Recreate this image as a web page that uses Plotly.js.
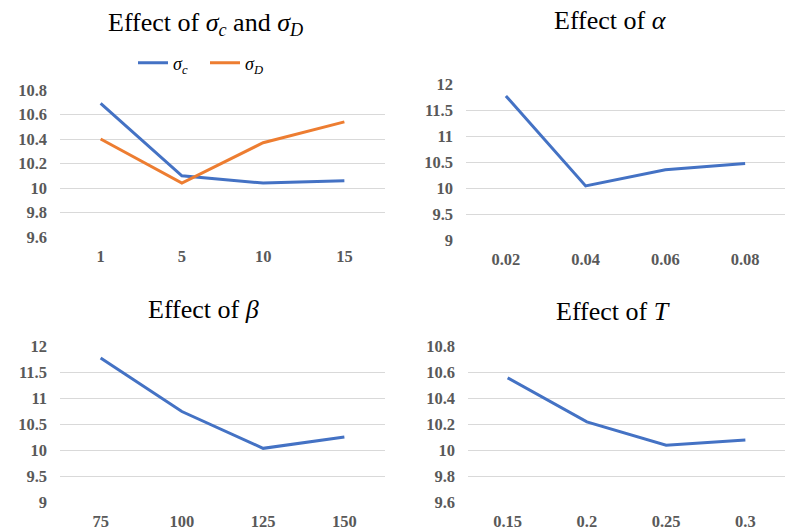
<!DOCTYPE html>
<html>
<head>
<meta charset="utf-8">
<script src="https://cdn.plot.ly/plotly-3.0.1.min.js"></script>
<style>html,body{margin:0;padding:0;background:#fff;}#chart{width:786px;height:531px;}</style>
</head>
<body>
<div id="chart"></div>
<script>
// Panel 1: effect of sigma_c and sigma_D
const sigmaCats = ['1', '5', '10', '15'];
const sigmaC = [10.69, 10.10, 10.04, 10.06];
const sigmaD = [10.40, 10.04, 10.37, 10.54];
// Panel 2: effect of alpha
const alphaCats = ['0.02', '0.04', '0.06', '0.08'];
const alphaVals = [11.77, 10.04, 10.35, 10.47];
// Panel 3: effect of beta
const betaCats = ['75', '100', '125', '150'];
const betaVals = [11.78, 10.75, 10.04, 10.26];
// Panel 4: effect of T
const tCats = ['0.15', '0.2', '0.25', '0.3'];
const tVals = [10.56, 10.22, 10.04, 10.08];

const BLUE = '#4472C4', ORANGE = '#ED7D31';
const W = 786, H = 531;
const px = (a, b) => [a / W, b / W];
const py = (top, bottom) => [1 - bottom / H, 1 - top / H];
const SERIF = 'Liberation Serif';

const tickFont = {family: SERIF, size: 16.5, color: '#595959', weight: 'bold'};
function xax(dom, anchor) {
  return {domain: dom, anchor: anchor, type: 'category', showgrid: false, showline: false, zeroline: false,
    ticks: '', tickfont: tickFont, range: [-0.5, 3.5], ticklabelstandoff: 7, fixedrange: true};
}
function yax(dom, anchor, range, dtick) {
  return {domain: dom, anchor: anchor, range: range, dtick: dtick, showgrid: true, gridcolor: '#d9d9d9', gridwidth: 1,
    showline: false, zeroline: false, ticks: '', tickfont: tickFont, ticklabelstandoff: 12, fixedrange: true};
}

const traces = [
  {x: sigmaCats, y: sigmaC, type: 'scatter', mode: 'lines', name: '<i>σ</i><sub><i>c</i></sub>', line: {color: BLUE, width: 3}, xaxis: 'x', yaxis: 'y'},
  {x: sigmaCats, y: sigmaD, type: 'scatter', mode: 'lines', name: '<i>σ</i><sub><i>D</i></sub>', line: {color: ORANGE, width: 3}, xaxis: 'x', yaxis: 'y'},
  {x: alphaCats, y: alphaVals, type: 'scatter', mode: 'lines', showlegend: false, line: {color: BLUE, width: 3}, xaxis: 'x2', yaxis: 'y2'},
  {x: betaCats, y: betaVals, type: 'scatter', mode: 'lines', showlegend: false, line: {color: BLUE, width: 3}, xaxis: 'x3', yaxis: 'y3'},
  {x: tCats, y: tVals, type: 'scatter', mode: 'lines', showlegend: false, line: {color: BLUE, width: 3}, xaxis: 'x4', yaxis: 'y4'}
];

const titleFont = {family: SERIF, size: 26, color: '#000'};
function title(text, xc, yc) {
  return {text: text, x: xc / W, y: 1 - yc / H, xref: 'paper', yref: 'paper', xanchor: 'center', yanchor: 'middle',
    showarrow: false, font: titleFont};
}

const layout = {
  width: W, height: H,
  margin: {l: 0, r: 0, t: 0, b: 0},
  paper_bgcolor: '#fff', plot_bgcolor: '#fff',
  font: {family: SERIF},
  showlegend: true,
  legend: {orientation: 'h', x: 133 / W, y: 1 - 63 / H, xanchor: 'left', yanchor: 'middle',
    font: {family: SERIF, size: 18, color: '#000'},
    entrywidth: 27, entrywidthmode: 'pixels', bgcolor: 'rgba(0,0,0,0)', itemclick: false},
  xaxis: xax(px(60, 385), 'y'),
  yaxis: yax(py(90, 237), 'x', [9.6, 10.8], 0.2),
  xaxis2: xax(px(466, 785), 'y2'),
  yaxis2: yax(py(84, 240), 'x2', [9, 12], 0.5),
  xaxis3: xax(px(60, 385), 'y3'),
  yaxis3: yax(py(346.7, 502.3), 'x3', [9, 12], 0.5),
  xaxis4: xax(px(468, 785), 'y4'),
  yaxis4: yax(py(346.7, 502.3), 'x4', [9.6, 10.8], 0.2),
  annotations: [
    title('Effect of <i>σ</i><sub><i>c</i></sub> and <i>σ</i><sub><i>D</i></sub>', 205, 24),
    title('Effect of <i>α</i>', 610, 21),
    title('Effect of <i>β</i>', 203, 309),
    title('Effect of <i>T</i>', 613, 311)
  ]
};

Plotly.newPlot('chart', traces, layout, {displayModeBar: false, staticPlot: true});
</script>
</body>
</html>
